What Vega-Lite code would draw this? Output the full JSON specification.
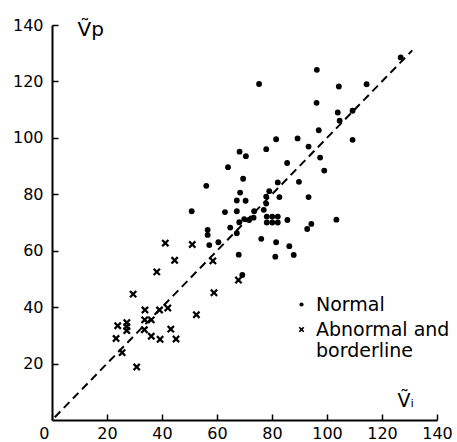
{
  "$schema": "https://vega.github.io/schema/vega-lite/v6.json",
  "width": 385,
  "height": 395,
  "autosize": "none",
  "padding": {"left": 52, "top": 25, "right": 20, "bottom": 22},
  "background": "white",
  "datasets": {
    "points": [
      {"vi": 126.8, "vp": 128.5, "group": "Normal"},
      {"vi": 96.3, "vp": 124.1, "group": "Normal"},
      {"vi": 75.3, "vp": 119.1, "group": "Normal"},
      {"vi": 104.3, "vp": 118.2, "group": "Normal"},
      {"vi": 114.4, "vp": 119.0, "group": "Normal"},
      {"vi": 96.2, "vp": 112.4, "group": "Normal"},
      {"vi": 103.9, "vp": 109.0, "group": "Normal"},
      {"vi": 109.3, "vp": 109.6, "group": "Normal"},
      {"vi": 104.6, "vp": 106.1, "group": "Normal"},
      {"vi": 97.0, "vp": 102.7, "group": "Normal"},
      {"vi": 109.3, "vp": 99.3, "group": "Normal"},
      {"vi": 81.5, "vp": 99.5, "group": "Normal"},
      {"vi": 89.3, "vp": 99.8, "group": "Normal"},
      {"vi": 77.9, "vp": 96.0, "group": "Normal"},
      {"vi": 93.3, "vp": 96.9, "group": "Normal"},
      {"vi": 68.2, "vp": 95.1, "group": "Normal"},
      {"vi": 70.5, "vp": 93.5, "group": "Normal"},
      {"vi": 97.5, "vp": 93.0, "group": "Normal"},
      {"vi": 64.0, "vp": 89.6, "group": "Normal"},
      {"vi": 85.5, "vp": 91.1, "group": "Normal"},
      {"vi": 99.0, "vp": 88.4, "group": "Normal"},
      {"vi": 56.1, "vp": 83.0, "group": "Normal"},
      {"vi": 69.5, "vp": 85.5, "group": "Normal"},
      {"vi": 82.1, "vp": 84.2, "group": "Normal"},
      {"vi": 89.8, "vp": 84.4, "group": "Normal"},
      {"vi": 68.4, "vp": 80.6, "group": "Normal"},
      {"vi": 79.0, "vp": 81.1, "group": "Normal"},
      {"vi": 67.2, "vp": 77.8, "group": "Normal"},
      {"vi": 70.4, "vp": 77.7, "group": "Normal"},
      {"vi": 77.9, "vp": 79.2, "group": "Normal"},
      {"vi": 82.7, "vp": 79.0, "group": "Normal"},
      {"vi": 93.3, "vp": 79.0, "group": "Normal"},
      {"vi": 77.9, "vp": 76.7, "group": "Normal"},
      {"vi": 50.8, "vp": 74.0, "group": "Normal"},
      {"vi": 62.9, "vp": 73.7, "group": "Normal"},
      {"vi": 67.2, "vp": 74.0, "group": "Normal"},
      {"vi": 73.5, "vp": 74.0, "group": "Normal"},
      {"vi": 77.0, "vp": 74.5, "group": "Normal"},
      {"vi": 68.1, "vp": 70.1, "group": "Normal"},
      {"vi": 69.9, "vp": 71.2, "group": "Normal"},
      {"vi": 71.7, "vp": 70.9, "group": "Normal"},
      {"vi": 73.3, "vp": 71.7, "group": "Normal"},
      {"vi": 78.1, "vp": 72.1, "group": "Normal"},
      {"vi": 80.1, "vp": 72.1, "group": "Normal"},
      {"vi": 82.1, "vp": 72.1, "group": "Normal"},
      {"vi": 78.1, "vp": 70.0, "group": "Normal"},
      {"vi": 80.1, "vp": 70.0, "group": "Normal"},
      {"vi": 82.1, "vp": 70.0, "group": "Normal"},
      {"vi": 85.6, "vp": 70.9, "group": "Normal"},
      {"vi": 94.3, "vp": 69.5, "group": "Normal"},
      {"vi": 92.8, "vp": 67.7, "group": "Normal"},
      {"vi": 64.8, "vp": 68.2, "group": "Normal"},
      {"vi": 67.2, "vp": 66.2, "group": "Normal"},
      {"vi": 76.1, "vp": 64.2, "group": "Normal"},
      {"vi": 81.5, "vp": 63.0, "group": "Normal"},
      {"vi": 86.3, "vp": 61.6, "group": "Normal"},
      {"vi": 67.9, "vp": 58.6, "group": "Normal"},
      {"vi": 81.2, "vp": 57.9, "group": "Normal"},
      {"vi": 87.9, "vp": 58.5, "group": "Normal"},
      {"vi": 56.6, "vp": 67.4, "group": "Normal"},
      {"vi": 56.6, "vp": 65.6, "group": "Normal"},
      {"vi": 57.2, "vp": 62.0, "group": "Normal"},
      {"vi": 60.5, "vp": 63.0, "group": "Normal"},
      {"vi": 69.2, "vp": 51.4, "group": "Normal"},
      {"vi": 103.4, "vp": 71.0, "group": "Normal"},
      {"vi": 41.2, "vp": 62.7, "group": "Abnormal and borderline"},
      {"vi": 51.0, "vp": 62.2, "group": "Abnormal and borderline"},
      {"vi": 44.6, "vp": 56.6, "group": "Abnormal and borderline"},
      {"vi": 58.5, "vp": 56.4, "group": "Abnormal and borderline"},
      {"vi": 38.1, "vp": 52.5, "group": "Abnormal and borderline"},
      {"vi": 58.9, "vp": 45.1, "group": "Abnormal and borderline"},
      {"vi": 29.5, "vp": 44.6, "group": "Abnormal and borderline"},
      {"vi": 52.5, "vp": 37.3, "group": "Abnormal and borderline"},
      {"vi": 33.8, "vp": 39.0, "group": "Abnormal and borderline"},
      {"vi": 39.1, "vp": 39.0, "group": "Abnormal and borderline"},
      {"vi": 42.1, "vp": 39.7, "group": "Abnormal and borderline"},
      {"vi": 33.7, "vp": 35.5, "group": "Abnormal and borderline"},
      {"vi": 36.1, "vp": 35.5, "group": "Abnormal and borderline"},
      {"vi": 23.9, "vp": 33.4, "group": "Abnormal and borderline"},
      {"vi": 27.2, "vp": 34.5, "group": "Abnormal and borderline"},
      {"vi": 27.2, "vp": 33.1, "group": "Abnormal and borderline"},
      {"vi": 27.2, "vp": 31.7, "group": "Abnormal and borderline"},
      {"vi": 33.6, "vp": 32.0, "group": "Abnormal and borderline"},
      {"vi": 43.2, "vp": 32.2, "group": "Abnormal and borderline"},
      {"vi": 23.3, "vp": 28.9, "group": "Abnormal and borderline"},
      {"vi": 36.1, "vp": 29.7, "group": "Abnormal and borderline"},
      {"vi": 39.3, "vp": 28.6, "group": "Abnormal and borderline"},
      {"vi": 45.1, "vp": 28.7, "group": "Abnormal and borderline"},
      {"vi": 25.5, "vp": 23.9, "group": "Abnormal and borderline"},
      {"vi": 30.8, "vp": 18.8, "group": "Abnormal and borderline"},
      {"vi": 67.8, "vp": 49.6, "group": "Abnormal and borderline"}
    ],
    "identity": [
      {"vi": 1, "vp": 1},
      {"vi": 131, "vp": 131}
    ]
  },
  "layer": [
    {
      "data": {"name": "identity"},
      "mark": {"type": "line", "color": "black", "strokeWidth": 2, "strokeDash": [8, 5]},
      "encoding": {
        "x": {"field": "vi", "type": "quantitative"},
        "y": {"field": "vp", "type": "quantitative"}
      }
    },
    {
      "data": {"name": "points"},
      "mark": {"type": "point", "filled": true, "opacity": 1, "color": "black", "size": 34},
      "encoding": {
        "x": {"field": "vi", "type": "quantitative"},
        "y": {"field": "vp", "type": "quantitative"},
        "shape": {
          "field": "group",
          "type": "nominal",
          "scale": {
            "domain": ["Normal", "Abnormal and borderline"],
            "range": ["circle", "M-0.8,-1.35L0,-0.55L0.8,-1.35L1.35,-0.8L0.55,0L1.35,0.8L0.8,1.35L0,0.55L-0.8,1.35L-1.35,0.8L-0.55,0L-1.35,-0.8Z"]
          },
          "legend": {
            "title": null,
            "orient": "none",
            "legendX": 240,
            "legendY": 270,
            "symbolSize": 18,
            "symbolFillColor": "black",
            "symbolStrokeWidth": 0,
            "labelFont": "DejaVu Sans",
            "labelFontSize": 19,
            "labelColor": "black",
            "labelOffset": 5,
            "rowPadding": 5,
            "labelExpr": "datum.label == 'Abnormal and borderline' ? ['Abnormal and', '\u2007borderline'] : datum.label"
          }
        }
      }
    }
  ],
  "encoding": {
    "x": {
      "field": "vi",
      "type": "quantitative",
      "scale": {"domain": [0, 140], "nice": false},
      "axis": {
        "values": [0, 20, 40, 60, 80, 100, 120, 140],
        "labelPadding": 11,
        "labelAlign": {"condition": {"test": "datum.value == 0", "value": "right"}, "value": "center"},
        "labelOffset": {"condition": {"test": "datum.value == 0", "value": -3}, "value": 0},
        "title": "Ṽᵢ",
        "titleFontSize": 19,
        "titleAlign": "left",
        "titleAnchor": "start",
        "titleBaseline": "alphabetic",
        "titleX": 345,
        "titleY": -14
      }
    },
    "y": {
      "field": "vp",
      "type": "quantitative",
      "scale": {"domain": [0, 140], "nice": false},
      "axis": {
        "values": [20, 40, 60, 80, 100, 120, 140],
        "labelPadding": 15,
        "title": "Ṽp",
        "titleFontSize": 20,
        "titleAngle": 0,
        "titleAlign": "left",
        "titleAnchor": "start",
        "titleBaseline": "alphabetic",
        "titleX": 25,
        "titleY": 10
      }
    }
  },
  "config": {
    "view": {"stroke": null},
    "axis": {
      "grid": false,
      "domainColor": "black",
      "domainWidth": 2,
      "tickColor": "black",
      "tickWidth": 1.5,
      "tickSize": -6,
      "labelColor": "black",
      "labelFont": "DejaVu Sans",
      "labelFontSize": 16,
      "titleFont": "DejaVu Sans",
      "titleFontWeight": "normal",
      "titleColor": "black"
    }
  }
}
